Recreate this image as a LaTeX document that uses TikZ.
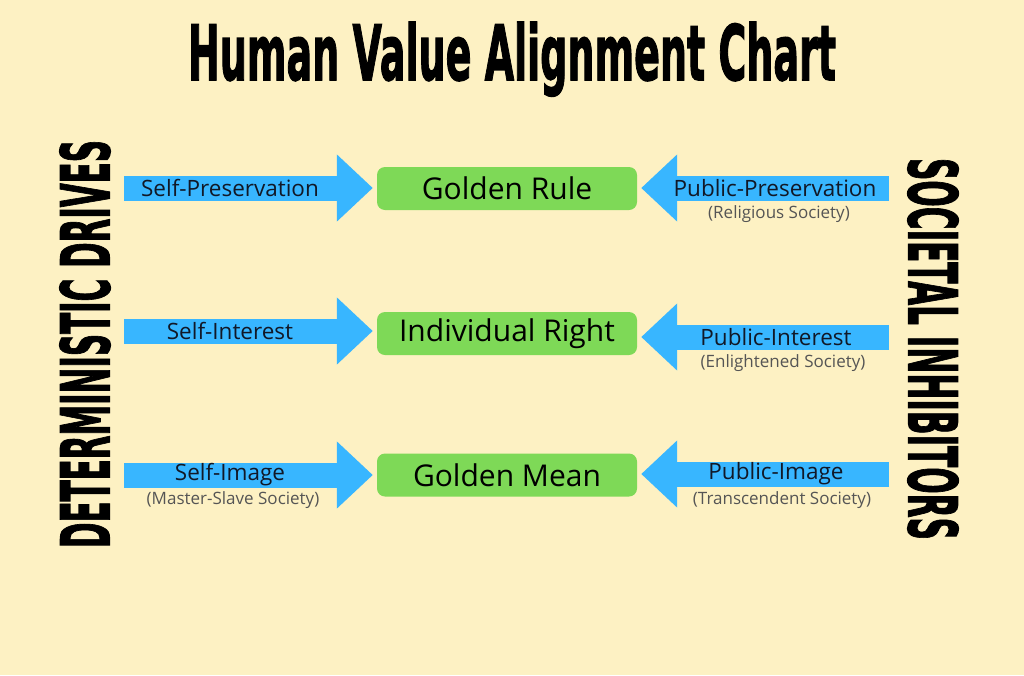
\documentclass[tikz,border=0pt]{standalone}
\usepackage{fontspec}
\setmainfont{Open Sans}
\newfontfamily\titlefont[BoldFeatures={FakeBold=2}]{DejaVu Sans}
\usetikzlibrary{arrows.meta}
\definecolor{bg}{HTML}{FDF1C3}
\definecolor{arrowblue}{HTML}{38B6FF}
\definecolor{boxgreen}{HTML}{7ED957}
\definecolor{labelink}{HTML}{111827}
\definecolor{subink}{HTML}{555555}
\tikzset{
  bluearrow/.style={draw=arrowblue, line width=25pt,
    -{Triangle[length=36pt,width=65pt]}, arrowblue},
  gbox/.style={fill=boxgreen, rounded corners=8pt, minimum width=260pt,
    minimum height=43pt, inner sep=0pt, text=black,
    font=\fontsize{30}{32}\selectfont},
  albl/.style={inner sep=0pt, text=labelink, font=\fontsize{22.5}{25}\selectfont},
  sublbl/.style={inner sep=0pt, text=subink, font=\fontsize{17}{19}\selectfont},
  bigtxt/.style={inner sep=0pt, text=black}
}
\begin{document}
\begin{tikzpicture}[x=1pt,y=-1pt]
\fill[bg] (0,0) rectangle (1024,675);
\useasboundingbox (0,0) rectangle (1024,675);

% title
\node[bigtxt, anchor=base] (title) at (512,80)
  {\resizebox{648pt}{58pt}{\titlefont\bfseries Human Value Alignment Chart}};

% side texts
\node[bigtxt] (left) at (85,344)
  {\rotatebox{90}{\resizebox{408pt}{50pt}{\titlefont\bfseries DETERMINISTIC DRIVES}}};
\node[bigtxt] (right) at (933,349)
  {\rotatebox{-90}{\resizebox{382pt}{50pt}{\titlefont\bfseries SOCIETAL INHIBITORS}}};

% green boxes
\node[gbox] (gr) at (507,188.5) {Golden Rule};
\node[gbox] (ir) at (507,333.5) {Individual Right};
\node[gbox] (gm) at (507,475) {Golden Mean};

% arrow tails
\coordinate (l1) at (124,188);
\coordinate (l2) at (124,331);
\coordinate (l3) at (124,475);
\coordinate (r1) at (889,188);
\coordinate (r2) at (889,337);
\coordinate (r3) at (889,474);

\draw[bluearrow] (l1) -- ([xshift=-4pt]gr.west |- l1);
\draw[bluearrow] (l2) -- ([xshift=-4pt]ir.west |- l2);
\draw[bluearrow] (l3) -- ([xshift=-4pt]gm.west |- l3);
\draw[bluearrow] (r1) -- ([xshift=4pt]gr.east |- r1);
\draw[bluearrow] (r2) -- ([xshift=4pt]ir.east |- r2);
\draw[bluearrow] (r3) -- ([xshift=4pt]gm.east |- r3);

% labels
\node[albl] (t1) at (230,188) {Self-Preservation};
\node[albl] (t2) at (230,331) {Self-Interest};
\node[albl] (t3) at (230,475) {Self-Image};
\node[sublbl] (s3) at (233,500) {(Master-Slave Society)};

\node[albl] (u1) at (775,188) {Public-Preservation};
\node[sublbl] (v1) at (779,214) {(Religious Society)};
\node[albl] (u2) at (776,337) {Public-Interest};
\node[sublbl] (v2) at (783,363) {(Enlightened Society)};
\node[albl] (u3) at (776,474) {Public-Image};
\node[sublbl] (v3) at (782,500) {(Transcendent Society)};
\end{tikzpicture}
\end{document}
